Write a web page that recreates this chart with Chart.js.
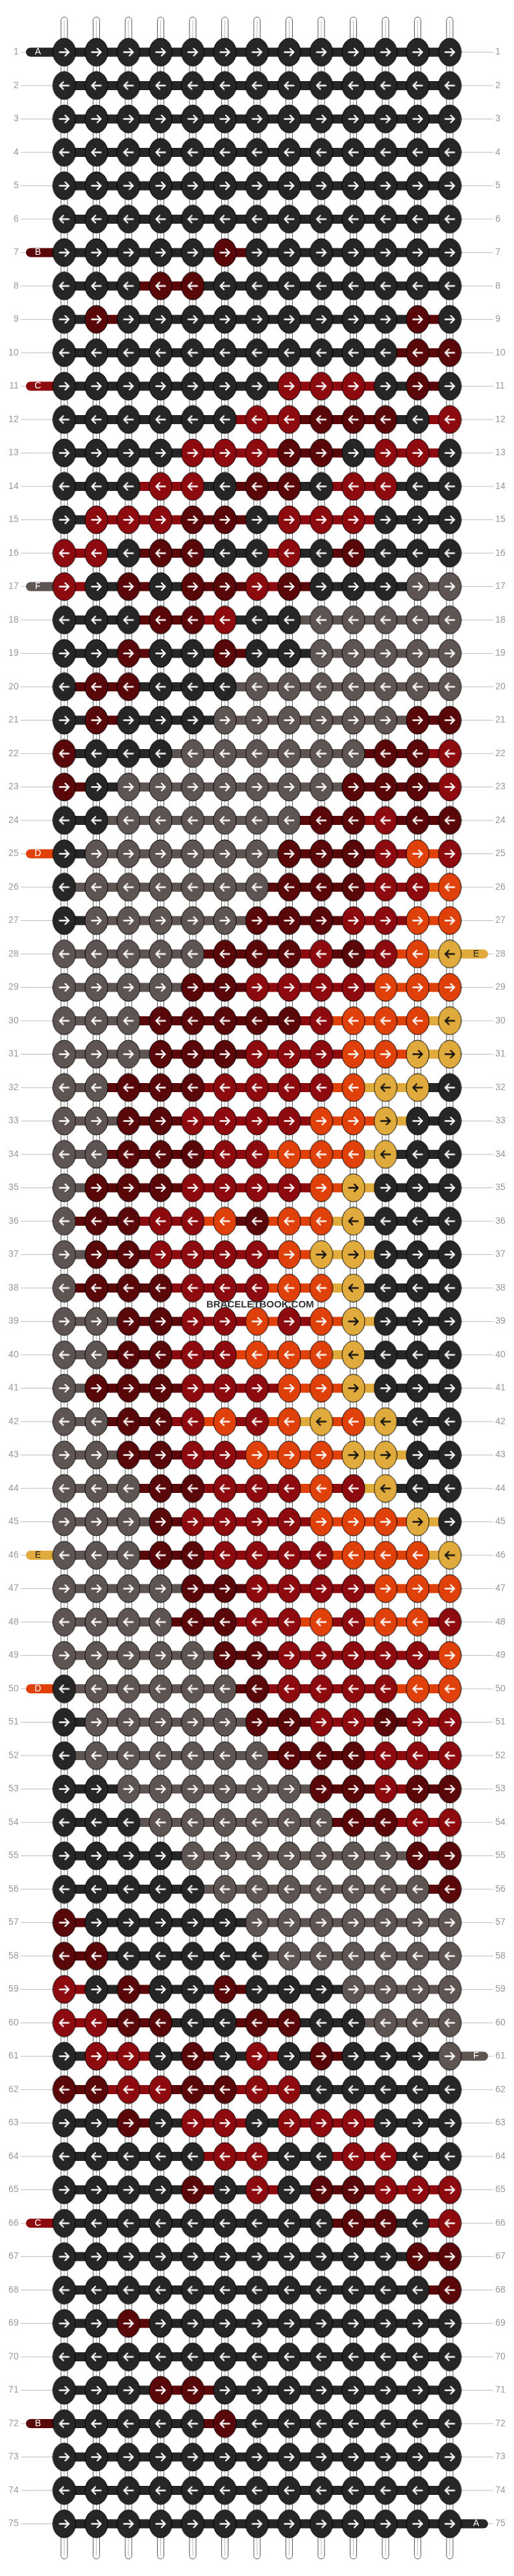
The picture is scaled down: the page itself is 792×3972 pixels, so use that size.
<!DOCTYPE html>
<html><head><meta charset="utf-8">
<script src="https://cdn.jsdelivr.net/npm/chart.js@4/dist/chart.umd.min.js"></script>
<style>body{margin:0;background:#fff}canvas{display:block}</style>
</head><body>
<canvas id="c" width="792" height="3972"></canvas>
<script>
const knotRows = [
"KKKKKKKKKKKKK","KKKKKKKKKKKKK","KKKKKKKKKKKKK","KKKKKKKKKKKKK","KKKKKKKKKKKKK","KKKKKKKKKKKKK",
"KKKKKMKKKKKKK","KKKMMKKKKKKKK","KMKKKKKKKKKMK","KKKKKKKKKKKMM","KKKKKKKRRRKMK","KKKKKKRRMMMKR",
"KKKKRRRMMKRRK","KKKRRKMMKRRKK","KRRRMMKRRRKKK","RRKMMKKRKMKKK","RKMKMMRMKKKGG","KKKMMRKKGGGGG",
"KKMKKMKKGGGGG","KMMKKKGGGGGGG","KMKKKGGGGGGMM","MKKKGGGGGGMMR","MKGGGGGGGMMMR","KKGGGGGGMMRMM",
"KGGGGGGMMMROR","KGGGGGGMMMRRO","KGGGGGMMMRROO","GGGGGMMMRMROY","GGGGMMRRRROOO","GGGMMMMMROOOY",
"GGGMMMRRROOYY","GGMMMRRRROYYK","GGMMRRRROOYKK","GGMMMRROOOYKK","GMMMRRRROYKKK","GMMRROMOOYKKK",
"GMMRRRROYYKKK","GMMMRRROOYKKK","GGMMRRORORYKKK".slice(0,10)+"KKK","GGMMRROOOYKKK","GMMMRRROOYKKK","GGMMRОROYOYKK",
"GGMMRROOOYYKK","GGGMMRRRORYKK","GGGMRRRROOOYK","GGGMMRRRROOOY","GGGGMMRRRROOO","GGGGMMRRORØOR",
"GGGGGMMRRRRRO","KGGGGGMRRRROO","KGGGGGMMRRMRR","KGGGGGGMMMRRR","KKGGGGGGMMRMM","KKKGGGGGGMMRR",
"KKKKGGGGGGGMM","KKKKKGGGGGGGM","MKKKKKGGGGGGG","MMKKKKKGGGGGG","RKMKKMKKKGGGG","RRMMKKMMKKGGG",
"KRRKMKRKMKKKG","MMRRMMRRKKKKK","KKMKRRKRRRKKK","KKKKKRRKKRRKK","KKKKMKRKMMRRR","KKKKKKKKKMMKR",
"KKKKKKKKKKKMM","KKKKKKKKKKKKM","KKMKKKKKKKKKK","KKKKKKKKKKKKK","KKKMMKKKKKKKK","KKKKKMKKKKKKK",
"KKKKKKKKKKKKK","KKKKKKKKKKKKK","KKKKKKKKKKKKK"];
knotRows[38] = "GGMMRRORORYKKK".replace("RORORY","RORОY").slice(0,0) + "GGMMRRORO" + "YKKK";
knotRows[41] = "GGMMRORO" + "YOYKK";
knotRows[47] = "GGGGMMRRORO" + "OR";
const palette = {K:"#262626",G:"#5e5553",M:"#5a0709",R:"#8d0b0f",O:"#e0400a",Y:"#e0ab3c"};
const stubLetters = {A:"K",B:"M",C:"R",D:"O",E:"Y",F:"G"};
const leftStubs = [[1,"A"],[7,"B"],[11,"C"],[17,"F"],[25,"D"],[46,"E"],[50,"D"],[66,"C"],[72,"B"]];
const rightStubs = [[28,"E"],[61,"F"],[75,"A"]];
const NCOL = 13, NROW = knotRows.length;

function knotImg(color, dir){
  const w=37,h=45,cv=document.createElement('canvas');cv.width=w;cv.height=h;
  const g=cv.getContext('2d');
  g.beginPath();g.ellipse(w/2,h/2,17.5,21.5,0,0,Math.PI*2);
  g.fillStyle=palette[color]||palette.K;g.fill();g.lineWidth=1;g.strokeStyle="#000";g.stroke();
  g.strokeStyle = color==="Y" ? "#111" : "#fff"; g.lineWidth=2.4; g.lineCap="round";
  const s = dir>0?1:-1, cx=w/2, cy=h/2;
  g.beginPath();g.moveTo(cx-7*s,cy);g.lineTo(cx+7*s,cy);
  g.moveTo(cx+7*s,cy);g.lineTo(cx+1.5*s,cy-5.5);
  g.moveTo(cx+7*s,cy);g.lineTo(cx+1.5*s,cy+5.5);g.stroke();
  return cv;
}
const imgCache={};
function img(c,d){const k=c+d;return imgCache[k]||(imgCache[k]=knotImg(c,d));}

const knotData=[], knotStyles=[];
knotRows.forEach((row,r)=>{for(let c=0;c<NCOL;c++){knotData.push({x:c+1,y:r+1});knotStyles.push(img(row[c], r%2===0?1:-1));}});

const datasets=[{type:'scatter',data:knotData,pointStyle:knotStyles,order:0,pointRadius:18}];
knotRows.forEach((row,r)=>{
  const pts=[];for(let c=0;c<NCOL;c++)pts.push({x:c+1,y:r+1});
  const dirRight = r%2===0;
  datasets.push({type:'line',data:pts,borderWidth:14,pointRadius:0,order:2,
    segment:{borderColor:ctx=>{const i=ctx.p0DataIndex;return palette[dirRight?row[i]:row[i+1]]||palette.K;}},borderColor:palette.K});
});
leftStubs.forEach(([r,l])=>datasets.push({type:'line',data:[{x:-0.05,y:r},{x:1,y:r}],borderWidth:14,borderColor:palette[stubLetters[l]],pointRadius:0,order:1,borderCapStyle:'round'}));
rightStubs.forEach(([r,l])=>datasets.push({type:'line',data:[{x:13,y:r},{x:14.05,y:r}],borderWidth:14,borderColor:palette[stubLetters[l]],pointRadius:0,order:1,borderCapStyle:'round'}));

const decor={id:'decor',
 beforeDatasetsDraw(ch){
  const g=ch.ctx,xs=ch.scales.x,ys=ch.scales.y;
  g.save();
  g.strokeStyle="#bbb";g.lineWidth=1;
  g.fillStyle="#999";g.font="14px 'Liberation Sans', Arial, sans-serif";g.textBaseline="middle";
  for(let r=1;r<=NROW;r++){
    const y=ys.getPixelForValue(r);
    g.beginPath();g.moveTo(xs.getPixelForValue(-0.35),y);g.lineTo(xs.getPixelForValue(1),y);
    g.moveTo(xs.getPixelForValue(13),y);g.lineTo(xs.getPixelForValue(14.35),y);g.stroke();
    g.textAlign="right";g.fillText(String(r),xs.getPixelForValue(-0.42),y);
    g.textAlign="left";g.fillText(String(r),xs.getPixelForValue(14.42),y);
  }
  const top=ys.getPixelForValue(-0.05),bot=ys.getPixelForValue(76.05);
  for(let c=1;c<=NCOL;c++){
    const x=xs.getPixelForValue(c);
    g.fillStyle="#fff";g.strokeStyle="#555";g.lineWidth=1;
    g.beginPath();g.roundRect(x-5,top,10,bot-top,5);g.fill();g.stroke();
    g.beginPath();g.moveTo(x,top+5);g.lineTo(x,bot-5);g.strokeStyle="#bbb";g.stroke();
  }
  g.restore();
 },
 afterDatasetsDraw(ch){
  const g=ch.ctx,xs=ch.scales.x,ys=ch.scales.y;
  g.save();g.font="14px 'Liberation Sans', Arial, sans-serif";g.textBaseline="middle";g.textAlign="center";
  leftStubs.forEach(([r,l])=>{g.fillStyle=l==="E"?"#222":"#fff";g.fillText(l,xs.getPixelForValue(0.18),ys.getPixelForValue(r));});
  rightStubs.forEach(([r,l])=>{g.fillStyle=l==="E"?"#222":"#fff";g.fillText(l,xs.getPixelForValue(13.82),ys.getPixelForValue(r));});
  g.font="bold 15px 'Liberation Sans', Arial, sans-serif";g.fillStyle="#333";
  g.fillText("BRACELETBOOK.COM",xs.getPixelForValue(7.1),ys.getPixelForValue(38.5));
  g.restore();
 }};

new Chart(document.getElementById('c'),{
 data:{datasets},
 options:{responsive:false,animation:false,events:[],devicePixelRatio:1,
  layout:{padding:0},
  plugins:{legend:{display:false},tooltip:{enabled:false}},
  scales:{
   x:{type:'linear',display:false,min:1-84/52,max:1+(792-84)/52},
   y:{type:'linear',display:false,reverse:true,min:1-62/52,max:1+(3972-62)/52}
  }},
 plugins:[decor]
});
</script>
</body></html>
